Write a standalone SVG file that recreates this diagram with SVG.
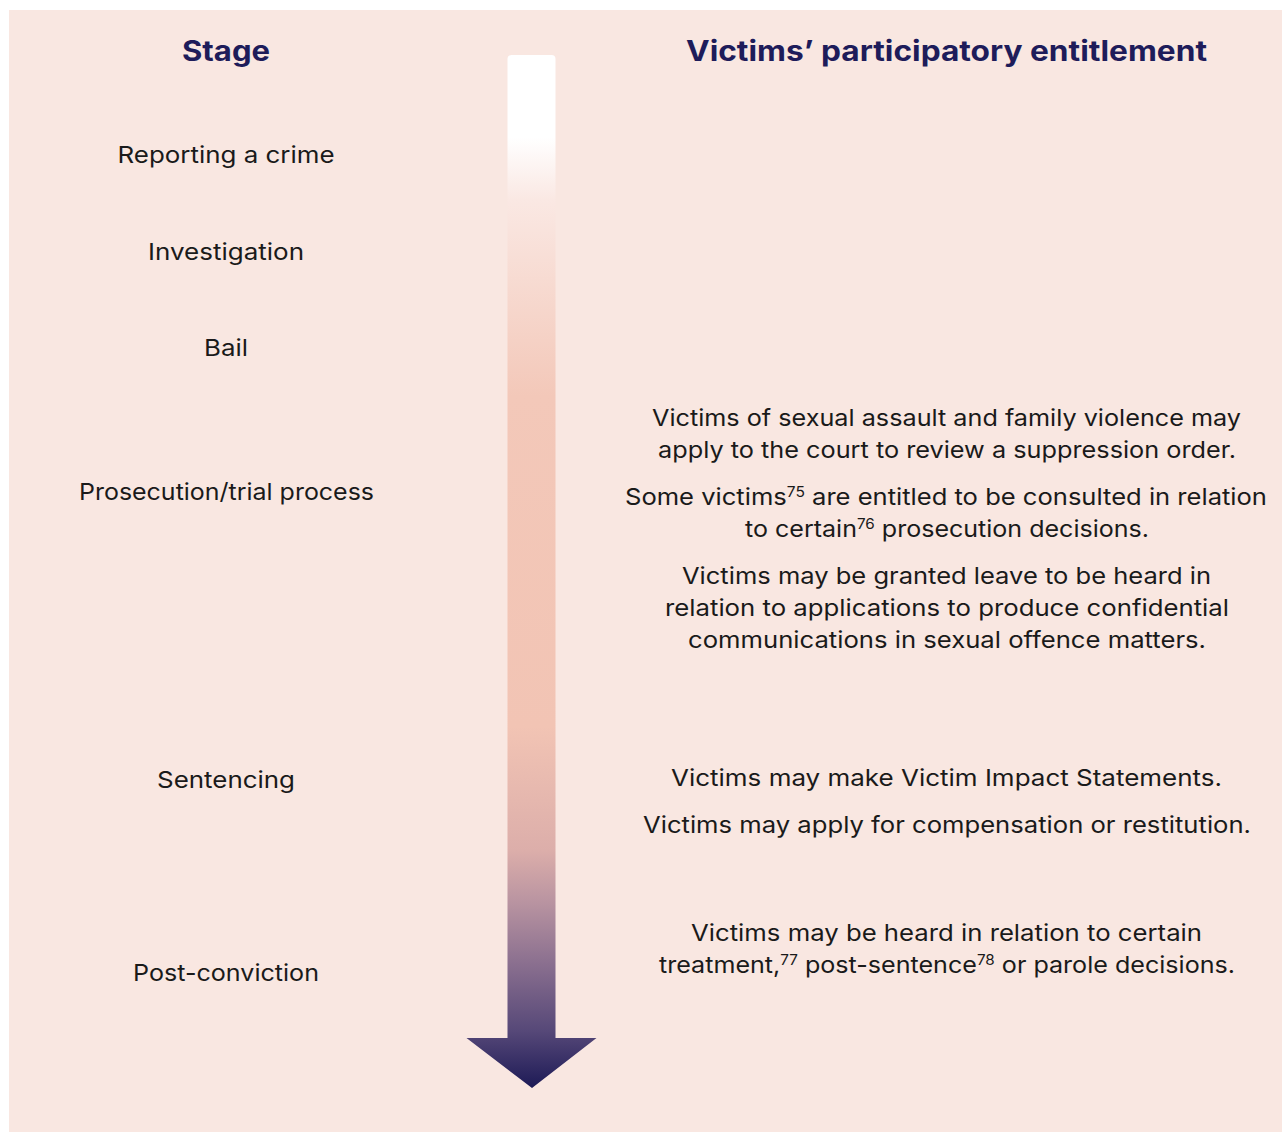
<svg xmlns="http://www.w3.org/2000/svg" width="1282" height="1133" viewBox="0 0 1282 1133">
  <style>
    .head { font-family: Inter, "Open Sans", "Liberation Sans", sans-serif; font-weight: 700; font-size: 28px; fill: #1e1c5a; text-anchor: middle; }
    .stage { font-family: Inter, "Open Sans", "Liberation Sans", sans-serif; font-size: 23px; fill: #1a1a1a; text-anchor: middle; }
    .ent { font-family: Inter, "Open Sans", "Liberation Sans", sans-serif; font-size: 23px; fill: #1a1a1a; text-anchor: middle; }
    .sup { font-size: 14px; }
  </style>
  <defs>
    <linearGradient id="timeline" gradientUnits="userSpaceOnUse" x1="0" y1="55" x2="0" y2="1088">
      <stop offset="0" stop-color="#ffffff"/>
      <stop offset="0.08" stop-color="#ffffff"/>
      <stop offset="0.14" stop-color="#fae8e3"/>
      <stop offset="0.33" stop-color="#f3c8b9"/>
      <stop offset="0.65" stop-color="#f2c4b4"/>
      <stop offset="0.77" stop-color="#dcaeaa"/>
      <stop offset="0.82" stop-color="#b994a1"/>
      <stop offset="0.88" stop-color="#8a6f8f"/>
      <stop offset="0.945" stop-color="#564878"/>
      <stop offset="1" stop-color="#1d1a56"/>
    </linearGradient>
  </defs>

  <rect x="0" y="0" width="1282" height="1133" fill="#ffffff"/>
  <rect x="9" y="10" width="1273" height="1122" fill="#f9e7e1"/>

  <!-- column headings -->
  <g id="headings">
    <text class="head" x="226" y="61" textLength="88" lengthAdjust="spacingAndGlyphs">Stage</text>
    <text class="head" x="946.5" y="61" textLength="521" lengthAdjust="spacingAndGlyphs">Victims’ participatory entitlement</text>
  </g>

  <!-- timeline arrow -->
  <g id="connectors">
    <path d="M507.5,59 Q507.5,55 511.5,55 L551.5,55 Q555.5,55 555.5,59 L555.5,1038 L596.5,1038 L532,1088 L466.5,1038 L507.5,1038 Z" fill="url(#timeline)"/>
  </g>

  <!-- stages -->
  <g id="stage-reporting"><text class="stage" x="226" y="163" textLength="217" lengthAdjust="spacingAndGlyphs">Reporting a crime</text></g>
  <g id="stage-investigation"><text class="stage" x="226" y="260" textLength="156" lengthAdjust="spacingAndGlyphs">Investigation</text></g>
  <g id="stage-bail"><text class="stage" x="226" y="356" textLength="44" lengthAdjust="spacingAndGlyphs">Bail</text></g>
  <g id="stage-prosecution"><text class="stage" x="226.5" y="500" textLength="295" lengthAdjust="spacingAndGlyphs">Prosecution/trial process</text></g>
  <g id="stage-sentencing"><text class="stage" x="226" y="788" textLength="138" lengthAdjust="spacingAndGlyphs">Sentencing</text></g>
  <g id="stage-post-conviction"><text class="stage" x="226" y="981" textLength="186" lengthAdjust="spacingAndGlyphs">Post-conviction</text></g>

  <!-- entitlements -->
  <g id="ent-suppression">
    <text class="ent" x="946.5" y="426" textLength="589" lengthAdjust="spacingAndGlyphs">Victims of sexual assault and family violence may</text>
    <text class="ent" x="947" y="458" textLength="578" lengthAdjust="spacingAndGlyphs">apply to the court to review a suppression order.</text>
  </g>
  <g id="ent-consulted">
    <text class="ent" x="946" y="505" textLength="642" lengthAdjust="spacingAndGlyphs">Some victims<tspan class="sup" dy="-8">75</tspan><tspan dy="8"> are entitled to be consulted in relation</tspan></text>
    <text class="ent" x="947" y="537" textLength="404" lengthAdjust="spacingAndGlyphs">to certain<tspan class="sup" dy="-8">76</tspan><tspan dy="8"> prosecution decisions.</tspan></text>
  </g>
  <g id="ent-confidential">
    <text class="ent" x="946.5" y="584" textLength="529" lengthAdjust="spacingAndGlyphs">Victims may be granted leave to be heard in</text>
    <text class="ent" x="947" y="616" textLength="564" lengthAdjust="spacingAndGlyphs">relation to applications to produce confidential</text>
    <text class="ent" x="947" y="648" textLength="518" lengthAdjust="spacingAndGlyphs">communications in sexual offence matters.</text>
  </g>
  <g id="ent-impact">
    <text class="ent" x="946.5" y="786" textLength="551" lengthAdjust="spacingAndGlyphs">Victims may make Victim Impact Statements.</text>
  </g>
  <g id="ent-compensation">
    <text class="ent" x="947" y="833" textLength="608" lengthAdjust="spacingAndGlyphs">Victims may apply for compensation or restitution.</text>
  </g>
  <g id="ent-post-sentence">
    <text class="ent" x="946.5" y="941" textLength="511" lengthAdjust="spacingAndGlyphs">Victims may be heard in relation to certain</text>
    <text class="ent" x="947" y="973" textLength="576" lengthAdjust="spacingAndGlyphs">treatment,<tspan class="sup" dy="-8">77</tspan><tspan dy="8"> post-sentence</tspan><tspan class="sup" dy="-8">78</tspan><tspan dy="8"> or parole decisions.</tspan></text>
  </g>
</svg>
